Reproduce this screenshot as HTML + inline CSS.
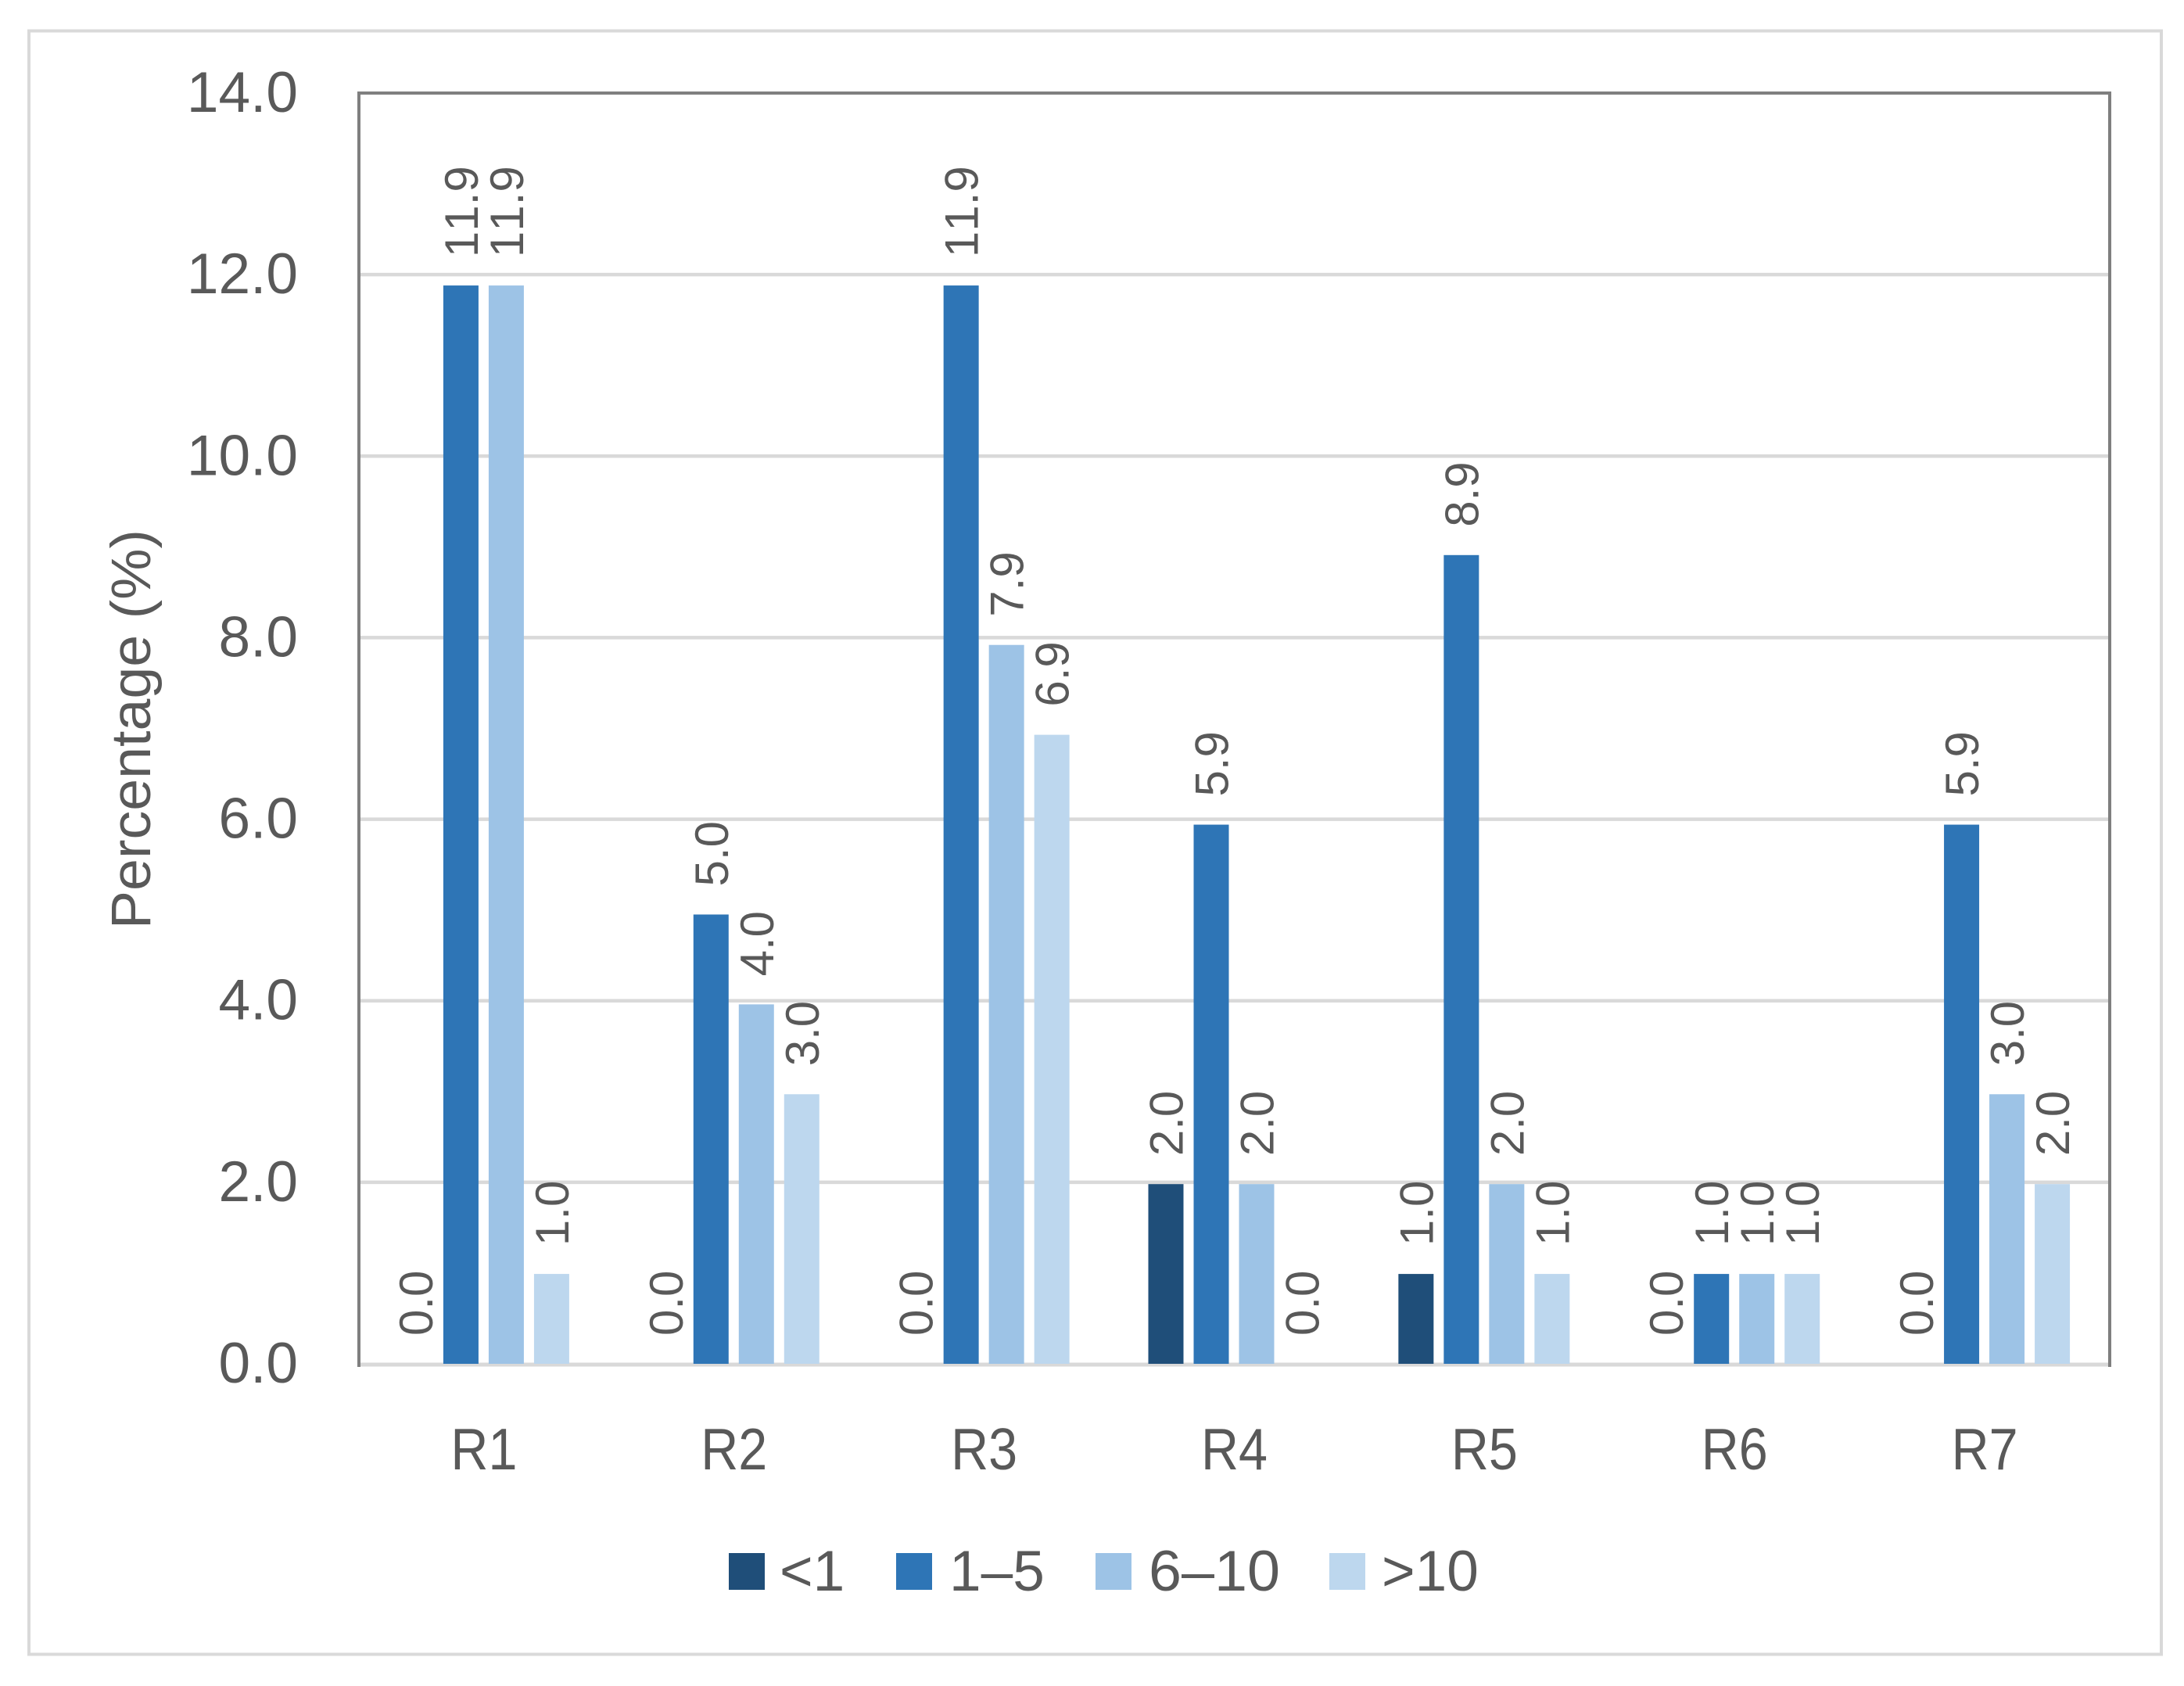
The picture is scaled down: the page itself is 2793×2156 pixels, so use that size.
<!DOCTYPE html>
<html lang="en">
<head>
<meta charset="utf-8">
<title>Percentage by category R1–R7</title>
<style>
  html, body { margin: 0; padding: 0; background: #fff; }
  svg { display: block; }
  text { font-family: "Liberation Sans", sans-serif; fill: #595959; font-kerning: none; }
</style>
</head>
<body>
<svg id="chart" xmlns="http://www.w3.org/2000/svg" width="2793" height="2156" viewBox="0 0 2793 2156">
  <rect x="0" y="0" width="2793" height="2156" fill="#fff"/>
  <rect x="37" y="39.5" width="2727" height="2076" fill="#fff" stroke="#d9d9d9" stroke-width="4"/>
  <g id="grid"></g>
  <g id="plot-border"></g>
  <g id="bars"></g>
  <g id="value-labels"></g>
  <g id="y-ticks"></g>
  <g id="x-ticks"></g>
  <text transform="translate(192,1188) rotate(-90)" font-size="71" textLength="511" lengthAdjust="spacingAndGlyphs">Percentage (%)</text>
  <g>
    <g>
      <rect x="932" y="1986" width="46" height="47" fill="#1f4e79"/>
      <text x="997" y="2034" font-size="73">&lt;1</text>
    </g>
    <g>
      <rect x="1146" y="1986" width="46" height="47" fill="#2e75b6"/>
      <text x="1214" y="2034" font-size="73">1–5</text>
    </g>
    <g>
      <rect x="1401" y="1986" width="46" height="47" fill="#9dc3e6"/>
      <text x="1469" y="2034" font-size="73" textLength="168" lengthAdjust="spacingAndGlyphs">6–10</text>
    </g>
    <g>
      <rect x="1700" y="1986" width="46" height="47" fill="#bdd7ee"/>
      <text x="1767" y="2034" font-size="73">&gt;10</text>
    </g>
  </g>
</svg>
<script>
const categories = ['R1', 'R2', 'R3', 'R4', 'R5', 'R6', 'R7'];
const seriesNames = ['<1', '1–5', '6–10', '>10'];
const seriesUnder1 = [0, 0, 0, 1.98, 0.99, 0, 0];
const series1to5 = [11.88, 4.95, 11.88, 5.94, 8.91, 0.99, 5.94];
const series6to10 = [11.88, 3.96, 7.92, 1.98, 1.98, 0.99, 2.97];
const seriesOver10 = [0.99, 2.97, 6.93, 0, 0.99, 0.99, 1.98];
const yTicks = [0, 2, 4, 6, 8, 10, 12, 14];

const allSeries = [seriesUnder1, series1to5, series6to10, seriesOver10];
const seriesColors = ['#1f4e79', '#2e75b6', '#9dc3e6', '#bdd7ee'];

const NS = 'http://www.w3.org/2000/svg';
const plotLeft = 459, plotRight = 2698, plotTop = 119, plotBottom = 1744;
const yMax = 14;
const barStep = 58, barWidth = 45, barNudge = 6;

function yScale(v) {
  return plotBottom - (v / yMax) * (plotBottom - plotTop);
}
function xCenter(i) {
  return plotLeft + (i + 0.5) * (plotRight - plotLeft) / categories.length;
}
function xBar(i, s) {
  return xCenter(i) + (s - 2) * barStep + barNudge;
}
function make(tag, attrs, parent) {
  const el = document.createElementNS(NS, tag);
  for (const k in attrs) el.setAttribute(k, attrs[k]);
  parent.appendChild(el);
  return el;
}

const grid = document.getElementById('grid');
yTicks.forEach(function (t) {
  if (t === 0 || t === yMax) return;
  const line = make('line', { x1: plotLeft, x2: plotRight, y1: yScale(t), y2: yScale(t), stroke: '#d9d9d9', 'stroke-width': 4.5 }, grid);
  
  
});

const border = document.getElementById('plot-border');
const baseline = make('line', { x1: plotLeft, x2: plotRight, y1: plotBottom + 1, y2: plotBottom + 1, stroke: '#d9d9d9', 'stroke-width': 5 }, border);


const frame = make('path', {
  d: 'M' + plotLeft + ' ' + (plotBottom + 4) + 'V' + plotTop + 'H' + plotRight + 'V' + (plotBottom + 4),
  fill: 'none', stroke: '#7f7f7f', 'stroke-width': 4
}, border);



const barsGroup = document.getElementById('bars');
const labelsGroup = document.getElementById('value-labels');
allSeries.forEach(function (values, s) {
  values.forEach(function (v, i) {
    const x = xBar(i, s);
    const top = yScale(v);
    if (v > 0) {
      const bar = make('rect', { x: x, y: top, width: barWidth, height: plotBottom - top, fill: seriesColors[s] }, barsGroup);
      
      
    }
    const label = make('text', {
      transform: 'translate(' + (x + barWidth - 1) + ',' + (top - 36) + ') rotate(-90)',
      'font-size': 60
    }, labelsGroup);
    label.textContent = v.toFixed(1);
    
    
  });
});

const yTickGroup = document.getElementById('y-ticks');
yTicks.forEach(function (t) {
  const label = make('text', { x: 381, y: yScale(t) + 24, 'text-anchor': 'end', 'font-size': 73 }, yTickGroup);
  label.textContent = t.toFixed(1);
  
  
});

const xTickGroup = document.getElementById('x-ticks');
categories.forEach(function (c, i) {
  const label = make('text', {
    x: xCenter(i), y: 1879, 'text-anchor': 'middle', 'font-size': 75,
    textLength: 85, lengthAdjust: 'spacingAndGlyphs'
  }, xTickGroup);
  label.textContent = c;
  
  
});
</script>
</body>
</html>
